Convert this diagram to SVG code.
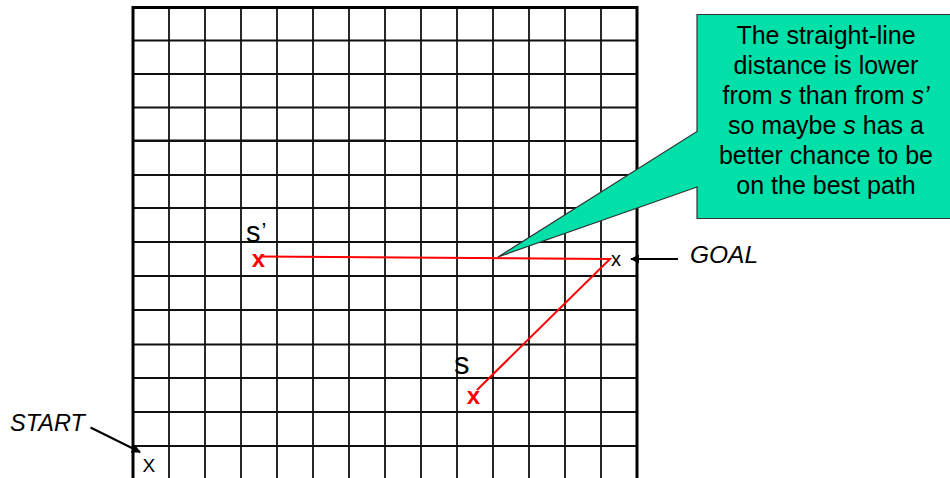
<svg xmlns="http://www.w3.org/2000/svg" width="950" height="478" viewBox="0 0 950 478">
<style>
  .grid line { stroke: #111; stroke-width: 1.8; }
  .border { stroke: #000; stroke-width: 3; fill: none; }
  .wall { stroke: #000; stroke-width: 5.5; }
  .lbl { font-family: "Liberation Sans", Arial, sans-serif; fill: #000; }
  .it { font-style: italic; }
  .redx { font-family: "Liberation Sans", Arial, sans-serif; font-weight: bold; fill: #ff0000; }
  .path { stroke: #ff0000; stroke-width: 2; fill: none; }
  .arrow { stroke: #000; stroke-width: 2; fill: none; marker-end: url(#ah); }
  .callout { fill: #00E0A8; stroke: #333; stroke-width: 1.2; }
  .ct { font-family: "Liberation Sans", Arial, sans-serif; font-size: 25px; fill: #000; text-anchor: middle; }
</style>
<defs>
  <marker id="ah" viewBox="0 0 10 10" refX="9" refY="5" markerWidth="4.5" markerHeight="4.5" orient="auto" markerUnits="strokeWidth">
    <path d="M0,0 L10,5 L0,10 z" fill="#000"/>
  </marker>
</defs>
<rect width="950" height="478" fill="#fff"/>
<g id="grid" class="grid">
  <line x1="169" y1="7.5" x2="169" y2="478"/>
  <line x1="205" y1="7.5" x2="205" y2="478"/>
  <line x1="241" y1="7.5" x2="241" y2="478"/>
  <line x1="277" y1="7.5" x2="277" y2="478"/>
  <line x1="313" y1="7.5" x2="313" y2="478"/>
  <line x1="349" y1="7.5" x2="349" y2="478"/>
  <line x1="385" y1="7.5" x2="385" y2="478"/>
  <line x1="421" y1="7.5" x2="421" y2="478"/>
  <line x1="457" y1="7.5" x2="457" y2="478"/>
  <line x1="493" y1="7.5" x2="493" y2="478"/>
  <line x1="529" y1="7.5" x2="529" y2="478"/>
  <line x1="565" y1="7.5" x2="565" y2="478"/>
  <line x1="601" y1="7.5" x2="601" y2="478"/>
  <line x1="133" y1="40.5" x2="637" y2="40.5"/>
  <line x1="133" y1="74" x2="637" y2="74"/>
  <line x1="133" y1="107.5" x2="637" y2="107.5"/>
  <line x1="133" y1="141" x2="637" y2="141"/>
  <line x1="133" y1="175" x2="637" y2="175"/>
  <line x1="133" y1="208" x2="637" y2="208"/>
  <line x1="133" y1="242" x2="637" y2="242"/>
  <line x1="133" y1="276" x2="637" y2="276"/>
  <line x1="133" y1="310" x2="637" y2="310"/>
  <line x1="133" y1="344.5" x2="637" y2="344.5"/>
  <line x1="133" y1="378" x2="637" y2="378"/>
  <line x1="133" y1="412" x2="637" y2="412"/>
  <line x1="133" y1="446" x2="637" y2="446"/>
  <path class="border" d="M133,480 V7.5 H637 V480"/>
  <line class="wall" x1="133" y1="140.5" x2="385" y2="140.5"/>
</g>
<g id="connectors">
  <polyline class="path" points="262,256.5 610,259 477,390"/>
  <line class="arrow" x1="678" y1="259" x2="631" y2="259"/>
  <line class="arrow" x1="90.5" y1="427.5" x2="140" y2="452"/>
</g>
<g id="node-s-prime">
  <text class="redx" x="258.5" y="267" font-size="24" text-anchor="middle">x</text>
  <text class="lbl" x="246" y="242" font-size="29">s</text>
  <text class="lbl" x="261.5" y="238" font-size="22">’</text>
</g>
<g id="node-s">
  <text class="redx" x="473.5" y="403.5" font-size="24" text-anchor="middle">x</text>
  <text class="lbl" x="454" y="373.5" font-size="31">s</text>
</g>
<g id="node-goal">
  <text class="lbl" x="611" y="266" font-size="20">x</text>
  <text class="lbl it" x="690" y="263" font-size="24.5">GOAL</text>
</g>
<g id="node-start">
  <text class="lbl" x="142.5" y="471.5" font-size="19">X</text>
  <text class="lbl it" x="10" y="430.5" font-size="23.5">START</text>
</g>
<g id="node-callout">
  <path class="callout" d="M697,14.5 H960 V218.5 H697 V187 L498,257 L697,131.5 Z"/>
  <text class="ct" x="826" y="44">The straight-line</text>
  <text class="ct" x="826" y="74">distance is lower</text>
  <text class="ct" x="826" y="104">from <tspan font-style="italic">s</tspan> than from <tspan font-style="italic">s’</tspan></text>
  <text class="ct" x="826" y="134">so maybe <tspan font-style="italic">s</tspan> has a</text>
  <text class="ct" x="826" y="164">better chance to be</text>
  <text class="ct" x="826" y="193.5">on the best path</text>
</g>
</svg>
